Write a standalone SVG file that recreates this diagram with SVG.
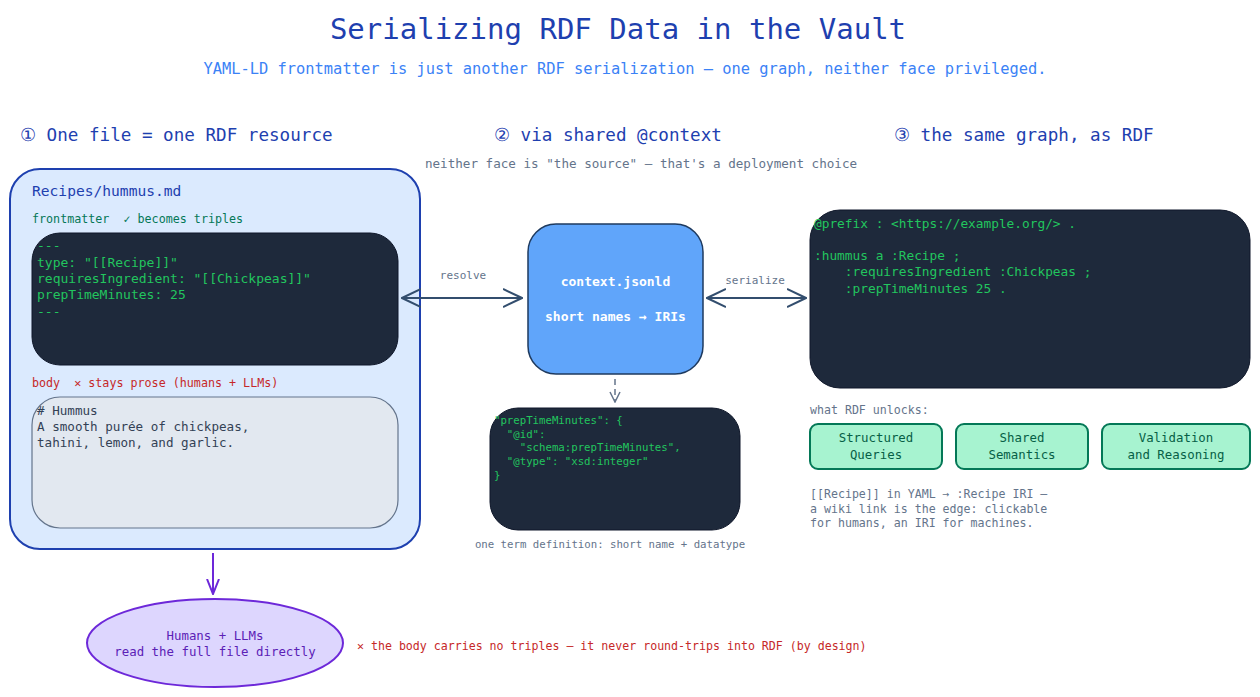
<svg xmlns="http://www.w3.org/2000/svg" width="1260" height="697" viewBox="0 0 1260 697">
<defs>
<style>
text{font-family:"DejaVu Sans Mono","Liberation Mono",monospace;white-space:pre;}
.title{font-size:29px;fill:#1e40af;text-anchor:middle;}
.sub{font-size:15.4px;fill:#3b82f6;text-anchor:middle;}
.sec{font-size:17.6px;fill:#1e40af;}
.note{fill:#64748b;}
.code{fill:#22c55e;}
.dark{fill:#1e293b;stroke:#0f172a;stroke-width:1;}
.conn{stroke:#334e6e;stroke-width:2;fill:none;}
.unlock{fill:#a7f3d0;stroke:#047857;stroke-width:2;}
.ut{font-size:12.4px;fill:#065f46;text-anchor:middle;}
</style>
<marker id="chev" viewBox="0 0 20 20" refX="19" refY="10" markerWidth="20" markerHeight="20" markerUnits="userSpaceOnUse" orient="auto-start-reverse">
<path d="M0,1 L19,10 L0,19" fill="none" stroke="#334e6e" stroke-width="2"/>
</marker>
<marker id="chevg" viewBox="0 0 12 12" refX="11" refY="6" markerWidth="12" markerHeight="12" markerUnits="userSpaceOnUse" orient="auto">
<path d="M1,1 L6,11 L11,1" fill="none" stroke="#64748b" stroke-width="1.5" transform="rotate(-90 6 6)"/>
</marker>
<marker id="chevp" viewBox="0 0 16 16" refX="15" refY="8" markerWidth="16" markerHeight="16" markerUnits="userSpaceOnUse" orient="auto">
<path d="M0,2 L15,8 L0,14" fill="none" stroke="#6d28d9" stroke-width="2"/>
</marker>
</defs>
<rect width="1260" height="697" fill="#ffffff"/>

<text class="title" x="618" y="39">Serializing RDF Data in the Vault</text>
<text class="sub" x="625" y="74">YAML-LD frontmatter is just another RDF serialization — one graph, neither face privileged.</text>

<text class="sec" x="20" y="141">① One file = one RDF resource</text>
<text class="sec" x="494" y="141">② via shared @context</text>
<text class="sec" x="894" y="141">③ the same graph, as RDF</text>
<text class="note" x="641" y="168" font-size="12.6" text-anchor="middle">neither face is "the source" — that's a deployment choice</text>

<g id="file">
<rect x="10" y="169" width="410" height="380" rx="30" fill="#dbeafe" stroke="#1e40af" stroke-width="2"/>
<text x="32" y="196" font-size="14.6" fill="#1e40af">Recipes/hummus.md</text>
<text x="32" y="223" font-size="11.7" fill="#047857">frontmatter  ✓ becomes triples</text>
</g>
<g id="frontmatter">
<rect class="dark" x="32" y="233" width="366" height="132" rx="28"/>
<g class="code" font-size="13">
<text x="37" y="250">---</text>
<text x="37" y="267">type: "[[Recipe]]"</text>
<text x="37" y="283">requiresIngredient: "[[Chickpeas]]"</text>
<text x="37" y="299">prepTimeMinutes: 25</text>
<text x="37" y="316">---</text>
</g>
</g>
<text x="32" y="387" font-size="11.7" fill="#c62828">body  ✕ stays prose (humans + LLMs)</text>
<g id="body">
<rect x="32" y="397" width="366" height="131" rx="28" fill="#e2e8f0" stroke="#64748b" stroke-width="1.2"/>
<g fill="#334155" font-size="12.6">
<text x="37" y="415"># Hummus</text>
<text x="37" y="431">A smooth purée of chickpeas,</text>
<text x="37" y="447">tahini, lemon, and garlic.</text>
</g>
</g>

<g id="context">
<rect x="528" y="224" width="175" height="150" rx="28" fill="#60a5fa" stroke="#1e3a5f" stroke-width="1.5"/>
<text x="615.5" y="286" font-size="13" font-weight="bold" fill="#ffffff" text-anchor="middle">context.jsonld</text>
<text x="615.5" y="321" font-size="13" font-weight="bold" fill="#ffffff" text-anchor="middle">short names → IRIs</text>
</g>

<g id="termdef">
<rect class="dark" x="490" y="408" width="250" height="122" rx="28"/>
<g class="code" font-size="10.7">
<text x="494" y="424">"prepTimeMinutes": {</text>
<text x="494" y="438">  "@id":</text>
<text x="494" y="451">    "schema:prepTimeMinutes",</text>
<text x="494" y="465">  "@type": "xsd:integer"</text>
<text x="494" y="479">}</text>
</g>
<text class="note" x="610" y="548" font-size="10.7" text-anchor="middle">one term definition: short name + datatype</text>
</g>

<g id="turtle">
<rect class="dark" x="810" y="210" width="440" height="178" rx="30"/>
<g class="code" font-size="12.8">
<text x="814" y="228">@prefix : &lt;https://example.org/&gt; .</text>
<text x="814" y="260">:hummus a :Recipe ;</text>
<text x="814" y="276">    :requiresIngredient :Chickpeas ;</text>
<text x="814" y="293">    :prepTimeMinutes 25 .</text>
</g>
</g>

<text class="note" x="810" y="414" font-size="11.6">what RDF unlocks:</text>
<g id="u1"><rect class="unlock" x="810" y="424" width="132" height="45" rx="8"/><text class="ut" x="876" y="442">Structured</text><text class="ut" x="876" y="459">Queries</text></g>
<g id="u2"><rect class="unlock" x="956" y="424" width="132" height="45" rx="8"/><text class="ut" x="1022" y="442">Shared</text><text class="ut" x="1022" y="459">Semantics</text></g>
<g id="u3"><rect class="unlock" x="1102" y="424" width="148" height="45" rx="8"/><text class="ut" x="1176" y="442">Validation</text><text class="ut" x="1176" y="459">and Reasoning</text></g>
<g class="note" font-size="11.6">
<text x="810" y="498">[[Recipe]] in YAML → :Recipe IRI —</text>
<text x="810" y="513">a wiki link is the edge: clickable</text>
<text x="810" y="527">for humans, an IRI for machines.</text>
</g>

<g id="readers">
<ellipse cx="215" cy="643" rx="128" ry="44" fill="#ddd6fe" stroke="#6d28d9" stroke-width="2"/>
<text x="215" y="640" font-size="12.4" fill="#5b21b6" text-anchor="middle">Humans + LLMs</text>
<text x="215" y="656" font-size="12.4" fill="#5b21b6" text-anchor="middle">read the full file directly</text>
</g>
<text x="357" y="650" font-size="11.6" fill="#c62828">✕ the body carries no triples — it never round-trips into RDF (by design)</text>

<g id="connectors">
<line class="conn" x1="402" y1="298" x2="522" y2="298" marker-start="url(#chev)" marker-end="url(#chev)"/>
<text class="note" x="463" y="279" font-size="11" text-anchor="middle">resolve</text>
<line class="conn" x1="707" y1="298" x2="806" y2="298" marker-start="url(#chev)" marker-end="url(#chev)"/>
<text class="note" x="755" y="284" font-size="11" text-anchor="middle">serialize</text>
<line x1="615" y1="379" x2="615" y2="402" stroke="#64748b" stroke-width="1.5" stroke-dasharray="6 4" marker-end="url(#chevg)"/>
<line x1="213" y1="553" x2="213" y2="594" stroke="#6d28d9" stroke-width="2" marker-end="url(#chevp)"/>
</g>
</svg>
